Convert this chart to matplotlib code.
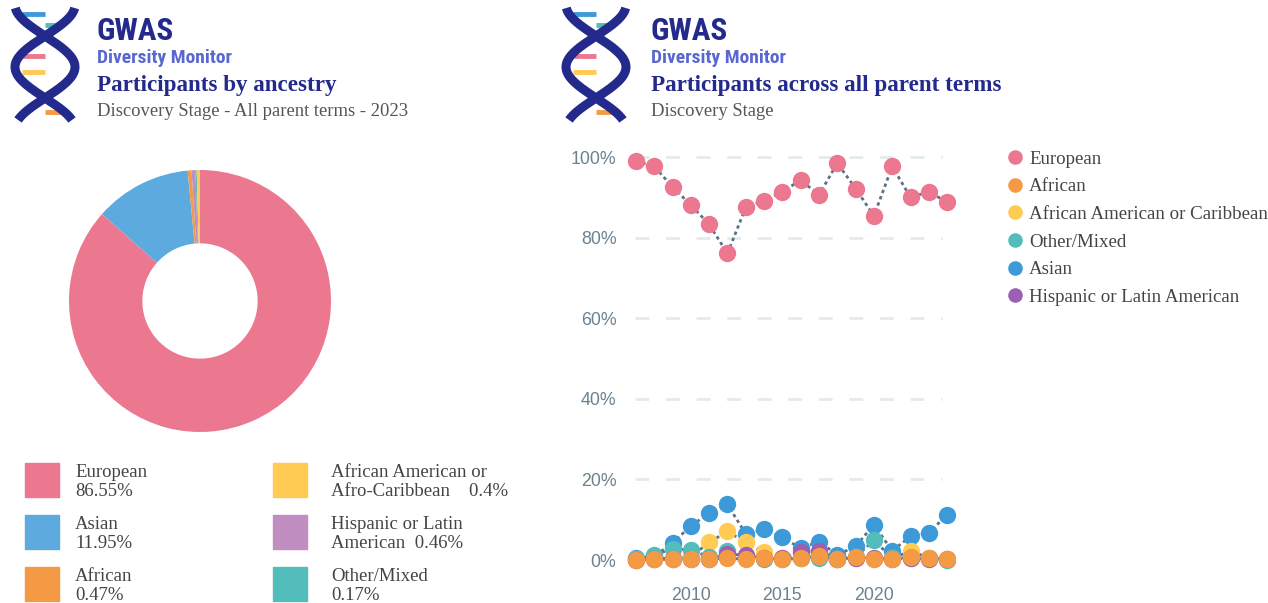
import numpy as np
import matplotlib
matplotlib.use("Agg")
import matplotlib.pyplot as plt
from matplotlib import font_manager
from matplotlib.lines import Line2D

# --- data -------------------------------------------------------------
pie_labels = ["European", "Asian", "African", "Hispanic or Latin American",
              "Other/Mixed", "African American or Afro-Caribbean"]
pie_values = [86.55, 11.95, 0.47, 0.46, 0.17, 0.40]

years = list(range(2007, 2025))
european = [99.0, 97.7, 92.6, 88.1, 83.3, 76.1, 87.5, 89.2, 91.4, 94.3, 90.6, 98.5, 92.2, 85.4, 97.7, 90.0, 91.4, 88.8]
asian = [0.5, 1.0, 4.2, 8.5, 11.6, 13.8, 6.5, 7.6, 5.7, 2.9, 4.6, 1.3, 3.4, 8.8, 2.3, 5.9, 6.7, 11.3]
afr_am = [0.2, 0.3, 0.5, 0.8, 4.4, 7.1, 4.4, 1.9, 0.5, 0.6, 1.0, 0.2, 0.5, 0.3, 0.4, 2.3, 0.5, 0.2]
other = [0.2, 1.3, 2.8, 2.5, 0.8, 2.3, 0.6, 0.3, 0.3, 0.4, 0.5, 0.3, 0.8, 4.9, 0.5, 0.5, 0.5, 0.1]
hispanic = [0.1, 0.2, 0.3, 0.2, 0.3, 1.5, 1.2, 0.5, 0.4, 2.1, 2.3, 0.3, 0.5, 0.6, 0.3, 0.4, 0.3, 0.2]
african = [0.1, 0.2, 0.3, 0.3, 0.3, 0.4, 0.3, 0.6, 0.3, 0.4, 1.0, 0.2, 0.8, 0.3, 0.2, 0.8, 0.4, 0.2]

# --- colours / fonts ----------------------------------------------------
NAVY = "#232a8c"
LIGHTNAVY = "#5a67d0"
pie_colors = ["#ec7890", "#5dabde", "#f59a44", "#c08ec0", "#52bdbb", "#ffcb52"]

names = {f.name for f in font_manager.fontManager.ttflist}
narrow = "Roboto"
for cand in ["Liberation Sans Narrow", "Roboto Condensed"]:
    if cand in names:
        narrow = cand
        break
SERIF = "Liberation Serif"
SANS = "Liberation Sans"

W, H = 1268, 603
fig = plt.figure(figsize=(W / 100, H / 100), dpi=100)


def px_axes(left, top, width, height):
    return fig.add_axes([left / W, 1 - (top + height) / H, width / W, height / H])


def fx(x):
    return x / W


def fy(y):
    return 1 - y / H


def draw_logo(x0):
    ax = px_axes(x0, 0, 90, 125)
    ax.set_xlim(0, 90)
    ax.set_ylim(125, 0)
    ax.axis("off")
    y = np.linspace(8, 120, 300)
    s1 = 45 + 30 * np.cos(np.pi * (y - 5) / 62)
    s2 = 45 - 30 * np.cos(np.pi * (y - 5) / 62)
    ax.plot(s1, y, color=NAVY, lw=6.5, solid_capstyle="butt")
    ax.plot(s2, y, color=NAVY, lw=6.5, solid_capstyle="butt")
    rungs = [(14, 22, 45, "#3d9ad9"), (25, 45, 63, "#4fbdba"), (56, 23, 45, "#ec7890"),
             (72, 22, 45, "#ffcb52"), (112, 45, 65, "#f59a44")]
    for yy, xa, xb, c in rungs:
        ax.plot([xa, xb], [yy, yy], color=c, lw=3.5, solid_capstyle="butt", zorder=0)


def draw_header(x_logo, x_text, title, subtitle):
    draw_logo(x_logo)
    fig.text(fx(x_text), fy(40), "GWAS", family=narrow, weight="bold", fontsize=22.5,
             color=NAVY, va="baseline")
    fig.text(fx(x_text), fy(63), "Diversity Monitor", family=narrow, weight="bold",
             fontsize=14, color=LIGHTNAVY, va="baseline")
    fig.text(fx(x_text), fy(91), title, family=SERIF, weight="bold", fontsize=16.6,
             color=NAVY, va="baseline")
    fig.text(fx(x_text), fy(116), subtitle, family=SERIF, fontsize=13.4,
             color="#555555", va="baseline")


draw_header(0, 97, "Participants by ancestry", "Discovery Stage - All parent terms - 2023")
draw_header(551, 651, "Participants across all parent terms", "Discovery Stage")

# --- donut ---------------------------------------------------------------
ax_pie = px_axes(69, 170, 262, 262)
ax_pie.pie(pie_values, colors=pie_colors, startangle=90, counterclock=False,
           radius=1, wedgeprops=dict(width=0.56, edgecolor="none"))
ax_pie.set_xlim(-1, 1)
ax_pie.set_ylim(-1, 1)
ax_pie.set_aspect("equal")

legend_items = [
    ("European\n86.55%", pie_colors[0], 25, 75, 463),
    ("Asian\n11.95%", pie_colors[1], 25, 75, 515),
    ("African\n0.47%", pie_colors[2], 25, 75, 567),
    ("African American or\nAfro-Caribbean    0.4%", pie_colors[5], 273, 331, 463),
    ("Hispanic or Latin\nAmerican  0.46%", pie_colors[3], 273, 331, 515),
    ("Other/Mixed\n0.17%", pie_colors[4], 273, 331, 567),
]
for txt, col, sx, tx, ly in legend_items:
    fig.patches.append(plt.Rectangle((fx(sx), fy(ly + 34)), 34 / W, 34 / H,
                                     transform=fig.transFigure, color=col))
    fig.text(fx(tx), fy(ly + 1), txt, family=SERIF, fontsize=13.5, color="#444444",
             va="top", linespacing=1.13)

# --- line chart ------------------------------------------------------------
ax = px_axes(622, 145, 333, 430)
ax.set_xlim(2006.24, 2024.43)
ax.set_ylim(-3.7, 103)
for s in ax.spines.values():
    s.set_visible(False)
for v in [0, 20, 40, 60, 80, 100]:
    ax.axhline(v, xmin=0.04, xmax=0.96, color="#e5eaed", lw=2, ls=(0, (5, 6)), zorder=0)

series = [
    ("European", european, "#ec7890", 6),
    ("African", african, "#f59a44", 6),
    ("African American or Caribbean", afr_am, "#ffcb52", 3),
    ("Other/Mixed", other, "#52bdbb", 4),
    ("Asian", asian, "#3d9ad9", 2),
    ("Hispanic or Latin American", hispanic, "#9b5fb4", 5),
]
for name, vals, col, z in series:
    ax.plot(years, vals, color="#5a7282", lw=2, ls=(0, (1.2, 1.2)), zorder=1)
    ax.plot(years, vals, ls="none", marker="o", ms=12.5, color=col, mec="none", zorder=z)

ax.set_yticks([0, 20, 40, 60, 80, 100])
ax.set_yticklabels([f"{v}%" for v in [0, 20, 40, 60, 80, 100]])
ax.set_xticks([2010, 2015, 2020])
ax.tick_params(length=0, colors="#6b8291", labelsize=12.8, pad=4)
ax.tick_params(axis="x", pad=9)
for lab in ax.get_xticklabels() + ax.get_yticklabels():
    lab.set_family(SANS)

handles = [Line2D([], [], ls="none", marker="o", ms=10.5, color=c, mec="none")
           for _, _, c, _ in series]
fig.legend(handles, [n for n, _, _, _ in series], loc="upper left",
           bbox_to_anchor=(fx(997), fy(143)), frameon=False, prop=dict(family=SERIF, size=13.6),
           labelcolor="#444444", handletextpad=0.2, labelspacing=0.55, handlelength=1.1,
           borderaxespad=0)

fig.savefig("out.png", dpi=100)
